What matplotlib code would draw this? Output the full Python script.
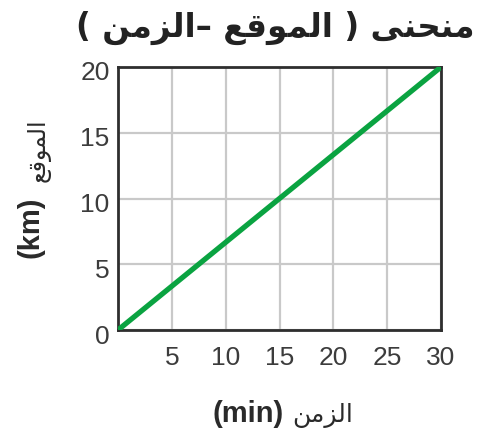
import matplotlib
matplotlib.use("Agg")
import matplotlib.pyplot as plt
from matplotlib.transforms import ScaledTranslation

# ---- data ----
time_min = [0, 15, 30]
position_km = [0, 10, 20]
x_ticks = [5, 10, 15, 20, 25, 30]
y_ticks = [0, 5, 10, 15, 20]

# ---- minimal Arabic shaping (presentation forms, visual order) ----
FORMS = {
    'ا': ('\uFE8D', '\uFE8E', None, None),
    'ل': ('\uFEDD', '\uFEDE', '\uFEDF', '\uFEE0'),
    'م': ('\uFEE1', '\uFEE2', '\uFEE3', '\uFEE4'),
    'ن': ('\uFEE5', '\uFEE6', '\uFEE7', '\uFEE8'),
    'ح': ('\uFEA1', '\uFEA2', '\uFEA3', '\uFEA4'),
    'ى': ('\uFEEF', '\uFEF0', None, None),
    'و': ('\uFEED', '\uFEEE', None, None),
    'ق': ('\uFED5', '\uFED6', '\uFED7', '\uFED8'),
    'ع': ('\uFEC9', '\uFECA', '\uFECB', '\uFECC'),
    'ز': ('\uFEAF', '\uFEB0', None, None),
}
DUAL = {c for c, f in FORMS.items() if f[2] is not None}


def shape(word):
    out = []
    n = len(word)
    for i, c in enumerate(word):
        if c not in FORMS:
            out.append(c)
            continue
        prev_j = i > 0 and word[i - 1] in DUAL
        next_j = c in DUAL and i < n - 1 and word[i + 1] in FORMS
        iso, fin, ini, med = FORMS[c]
        if prev_j and next_j:
            out.append(med)
        elif prev_j:
            out.append(fin)
        elif next_j:
            out.append(ini)
        else:
            out.append(iso)
    return ''.join(reversed(out))


title_words = ['منحنى', 'الموقع', 'الزمن']
y_word = 'الموقع'
x_word = 'الزمن'
y_unit = '(km)'
x_unit = '(min)'

W, H = 482, 439
fig = plt.figure(figsize=(W / 100, H / 100), dpi=100)
ax = fig.add_axes([118 / W, 1 - 331 / H, (441 - 118) / W, (331 - 68) / H])

ax.plot(time_min, position_km, color='#0aa341', lw=3.8, solid_capstyle='butt', zorder=3)
ax.set_xlim(0, 30)
ax.set_ylim(0, 20)
ax.set_xticks(x_ticks)
ax.set_yticks(y_ticks)
ax.grid(True, color='#c9c9c9', lw=1.6)
ax.set_axisbelow(True)
for s in ax.spines.values():
    s.set_color('#2e2e2e')
    s.set_linewidth(2.0)
ax.tick_params(axis='x', length=0, pad=11, labelsize=19, labelcolor='#3c3c3c')
ax.tick_params(axis='y', length=0, pad=6, labelsize=19, labelcolor='#3c3c3c')
for lab in ax.get_xticklabels() + ax.get_yticklabels():
    lab.set_family('Liberation Sans')
off = ScaledTranslation(0, -3 / 100, fig.dpi_scale_trans)
for lab in ax.get_yticklabels():
    lab.set_transform(lab.get_transform() + off)

# title (visual order, left to right)
title_visual = '( ' + shape(title_words[2]) + '\u2013 ' + shape(title_words[1]) + ' ) ' + shape(title_words[0])
fig.text(275 / W, 1 - 28 / H, title_visual, ha='center', va='center',
         fontsize=23.5, fontweight='bold', family='DejaVu Sans', color='#222222')

# x label
base_y = 1 - 422 / H
fig.text(284 / W, base_y, x_unit, ha='right', va='baseline', fontsize=21,
         fontweight='bold', family='Liberation Sans', color='#2a2a2a')
fig.text(292 / W, base_y, shape(x_word), ha='left', va='baseline', fontsize=18,
         family='DejaVu Sans', color='#2a2a2a')

# y label
fig.text(39 / W, 1 - 196 / H, y_unit, rotation=90, rotation_mode='anchor',
         ha='right', va='baseline', fontsize=21, fontweight='bold',
         family='Liberation Sans', color='#2a2a2a')
fig.text(45 / W, 1 - 182 / H, shape(y_word), rotation=90, rotation_mode='anchor',
         ha='left', va='baseline', fontsize=17, family='DejaVu Sans', color='#2a2a2a')

fig.savefig('out.png', dpi=100)
